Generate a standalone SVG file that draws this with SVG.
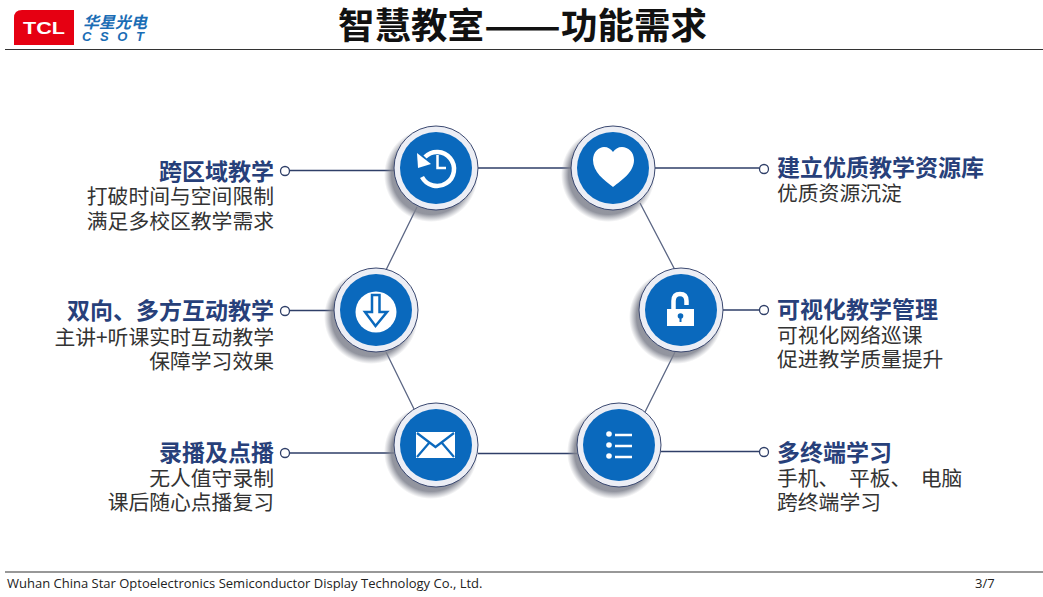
<svg xmlns="http://www.w3.org/2000/svg" width="1043" height="597" viewBox="0 0 1043 597">
<style>
text{font-family:"Liberation Sans","Noto Sans CJK SC",sans-serif}
.t{font-family:"Noto Sans CJK SC",sans-serif;font-size:36.500px;font-weight:700;fill:#111}
.h{font-family:"Noto Sans CJK SC",sans-serif;font-size:23px;font-weight:700;fill:#27407a}
.b{font-family:"Noto Sans CJK SC",sans-serif;font-size:20.800px;fill:#333}
.e{text-anchor:end}
.c{fill:none;stroke:#2f3f68;stroke-width:1.300}
.k{fill:none;stroke:#5b6684;stroke-width:1.300}
.d{fill:#fff;stroke:#2f3f68;stroke-width:1.300}
.w{fill:#fff}
.ws{fill:none;stroke:#fff;stroke-linecap:butt}
.rule{stroke:#333;stroke-width:1.200}
</style>
<defs>
<radialGradient id="sh" cx="50%" cy="50%" r="50%"><stop offset="84%" stop-color="#7f828e" stop-opacity=".85"/><stop offset="100%" stop-color="#8a8d99" stop-opacity="0"/></radialGradient>
<g id="disc">
<circle cx="-5" cy="7" r="47" fill="url(#sh)"/>
<circle r="42" fill="#eceef5" stroke="#3a4870" stroke-width="1"/>
<circle r="36" fill="#0a69bd"/>
</g>
</defs>
<rect width="1043" height="597" fill="#fff"/>
<g id="header">
<path d="M14 18q0-8 8-8H74V45H14Z" fill="#e60012"/>
<text x="44" y="34" font-size="17" font-weight="700" fill="#fff" text-anchor="middle" textLength="42" lengthAdjust="spacingAndGlyphs" style="font-family:'Liberation Sans',sans-serif">TCL</text>
<text x="83" y="28" font-size="16" font-weight="700" fill="#1a6db5" font-style="italic" style="font-family:'Noto Sans CJK SC',sans-serif">华星光电</text>
<text x="82" y="41" font-size="13" font-weight="700" fill="#1a6db5" font-style="italic" textLength="62" style="font-family:'Liberation Sans',sans-serif">CSOT</text>
<text class="t" x="338" y="39">智慧教室<tspan textLength="77" lengthAdjust="spacingAndGlyphs">——</tspan>功能需求</text>
<line class="rule" x1="5" y1="49.500" x2="1043" y2="49.500"/>
</g>
<g id="connectors">
<path class="c" d="M290 170.500H394M478 168H572M655 168H759M290 310.500H334M723 310H759M290 453H394M478 453.500H577M661 451.500H759"/>
<path class="k" d="M417 207L386 270M640 203L675 270M386 352L414 409M675 352L645 412"/>
<circle class="d" cx="285" cy="171" r="4.500"/>
<circle class="d" cx="764" cy="169" r="4.500"/>
<circle class="d" cx="285" cy="311" r="4.500"/>
<circle class="d" cx="764" cy="310" r="4.500"/>
<circle class="d" cx="285" cy="453" r="4.500"/>
<circle class="d" cx="764" cy="452" r="4.500"/>
</g>
<g id="node-1">
<use href="#disc" x="436" y="168"/>
<path class="ws" stroke-width="4.500" d="M425 157A17 17 0 1 1 422 177"/>
<path class="w" d="M417 153L431 164 418 168Z"/>
<path class="ws" stroke-width="2.500" d="M437.500 155V168H446"/>
<text class="h e" x="274" y="180">跨区域教学</text>
<text class="b e" x="274" y="204">打破时间与空间限制</text>
<text class="b e" x="274" y="229">满足多校区教学需求</text>
</g>
<g id="node-2">
<use href="#disc" x="613" y="168"/>
<path class="w" d="M613 187C604 180 593 172 593 160 593 152 599 147 604 147 608 147 611 149 613 152 615 149 618 147 622 147 628 147 634 152 634 160 634 172 622 180 613 187Z"/>
<text class="h" x="777" y="176">建立优质教学资源库</text>
<text class="b" x="777" y="201">优质资源沉淀</text>
</g>
<g id="node-3">
<use href="#disc" x="376" y="310"/>
<circle class="w" cx="376" cy="312" r="20.500"/>
<path d="M372 295H379.500V312H387L375.500 326 365 312H372Z" fill="none" stroke="#0a69bd" stroke-width="2.500"/>
<text class="h e" x="274" y="319">双向、多方互动教学</text>
<text class="b e" x="274" y="345">主讲+听课实时互动教学</text>
<text class="b e" x="274" y="369">保障学习效果</text>
</g>
<g id="node-4">
<use href="#disc" x="681" y="310"/>
<path class="ws" stroke-width="4.500" d="M673.500 309V301Q673.500 294 680 294T686.500 301V305"/>
<rect class="w" x="667" y="309" width="27" height="17"/>
<circle cx="680.500" cy="316" r="2.800" fill="#0a69bd"/>
<rect x="679.500" y="316" width="2" height="6" fill="#0a69bd"/>
<text class="h" x="777" y="318">可视化教学管理</text>
<text class="b" x="777" y="343">可视化网络巡课</text>
<text class="b" x="777" y="367">促进教学质量提升</text>
</g>
<g id="node-5">
<use href="#disc" x="436" y="445"/>
<rect class="w" x="416" y="432" width="39" height="26"/>
<path d="M417 433L435.500 447 454 433M417 457L429 443M454 457L442 443" fill="none" stroke="#0a69bd" stroke-width="2.200"/>
<text class="h e" x="274" y="461">录播及点播</text>
<text class="b e" x="274" y="486">无人值守录制</text>
<text class="b e" x="274" y="510">课后随心点播复习</text>
</g>
<g id="node-6">
<use href="#disc" x="619" y="445"/>
<circle class="w" cx="609" cy="434" r="2.800"/>
<circle class="w" cx="609" cy="445" r="2.800"/>
<circle class="w" cx="609" cy="456" r="2.800"/>
<path class="ws" stroke-width="2.500" d="M615 435H632M615 446H632M615 457H632"/>
<text class="h" x="777" y="461">多终端学习</text>
<text class="b" x="777" y="486">手机、<tspan dx="9.500">平板、</tspan><tspan dx="9.500">电脑</tspan></text>
<text class="b" x="777" y="510">跨终端学习</text>
</g>
<g id="footer">
<line class="rule" x1="5" y1="572" x2="1043" y2="572"/>
<text x="7" y="588" font-size="13" fill="#222" style="font-family:'Open Sans',sans-serif">Wuhan China Star Optoelectronics Semiconductor Display Technology Co., Ltd.</text>
<text x="975" y="588" font-size="13" fill="#222" style="font-family:'Open Sans',sans-serif">3/7</text>
</g>
</svg>
